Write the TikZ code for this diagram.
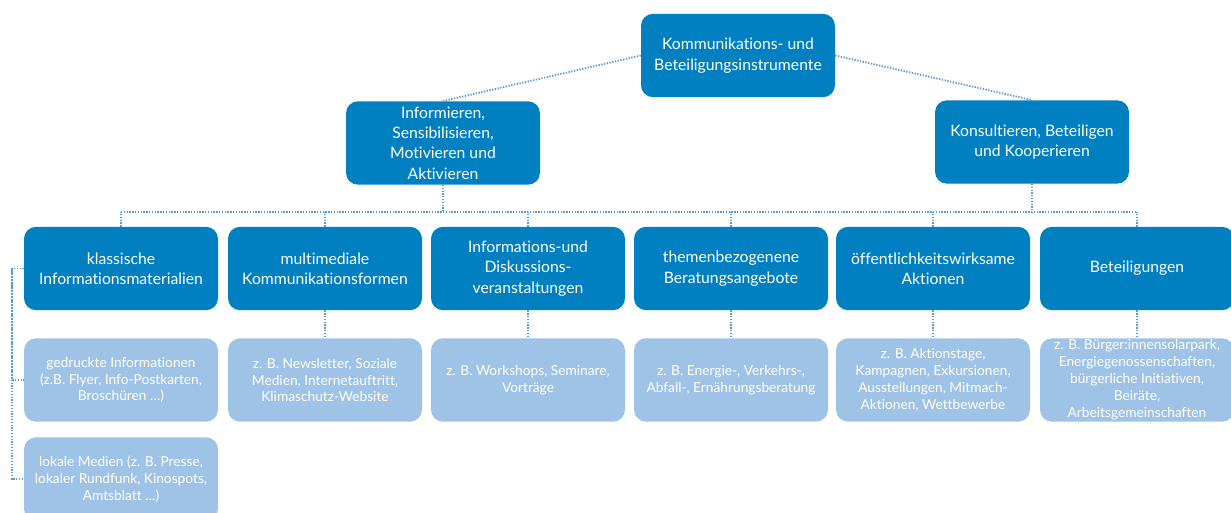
\documentclass[tikz,border=0pt]{standalone}
\usepackage{fontspec}
\setmainfont{Lato}[Ligatures=NoCommon]
\definecolor{dunkelblau}{RGB}{0,127,193}
\definecolor{hellblau}{RGB}{158,195,230}
\definecolor{linienblau}{RGB}{91,155,213}
\tikzset{
    hauptbox/.style={fill=dunkelblau, text=white, rounded corners=9pt, align=center,
        minimum width=145.5pt, minimum height=62.5pt, inner sep=2pt,
        font=\fontsize{11.8}{15.3}\selectfont},
    beispielbox/.style={fill=hellblau, text=white, rounded corners=9pt, align=center,
        minimum width=145.5pt, minimum height=62.5pt, inner sep=1pt,
        font=\fontsize{10.3}{12.7}\selectfont},
    verbinder/.style={linienblau, line width=1.4pt, dash pattern=on 1pt off 1.1pt}
}
\begin{document}
\begin{tikzpicture}[x=0.75pt, y=-0.75pt]
        \useasboundingbox (0,0) rectangle (1231,513);
        % Oberste Ebene
        \node[hauptbox] (top) at (738,55.5) {Kommunikations- und\\Beteiligungsinstrumente};
        \node[hauptbox] (inform) at (443,143) {Informieren,\\Sensibilisieren,\\Motivieren und\\Aktivieren};
        \node[hauptbox] (konsult) at (1032,142) {Konsultieren, Beteiligen\\und Kooperieren};

        % Instrumente
        \node[hauptbox] (k1) at (121,268.5) {klassische\\Informationsmaterialien};
        \node[hauptbox] (k2) at (325,268.5) {multimediale\\Kommunikationsformen};
        \node[hauptbox] (k3) at (528,268.5) {Informations-und\\Diskussions-\\veranstaltungen};
        \node[hauptbox] (k4) at (731,268.5) {themenbezogenene\\Beratungsangebote};
        \node[hauptbox] (k5) at (933,268.5) {öffentlichkeitswirksame\\Aktionen};
        \node[hauptbox] (k6) at (1137,268.5) {Beteiligungen};

        % Beispiele
        \node[beispielbox] (b1a) at (121,380) {gedruckte Informationen\\(z.B. Flyer, Info-Postkarten,\\Broschüren …)};
        \node[beispielbox] (b1b) at (121,479) {lokale Medien (z. B. Presse,\\lokaler Rundfunk, Kinospots,\\Amtsblatt …)};
        \node[beispielbox] (b2) at (325,380) {z. B. Newsletter, Soziale\\Medien, Internetauftritt,\\Klimaschutz-Website};
        \node[beispielbox] (b3) at (528,380) {z. B. Workshops, Seminare,\\Vorträge};
        \node[beispielbox] (b4) at (731,380) {z. B. Energie-, Verkehrs-,\\Abfall-, Ernährungsberatung};
        \node[beispielbox] (b5) at (933,380) {z. B. Aktionstage,\\Kampagnen, Exkursionen,\\Ausstellungen, Mitmach-\\Aktionen, Wettbewerbe};
        \node[beispielbox] (b6) at (1137,380) {z. B. Bürger:innensolarpark,\\Energiegenossenschaften,\\bürgerliche Initiativen,\\Beiräte,\\Arbeitsgemeinschaften};

        % Verbindungen oben
        \draw[verbinder] (top.west) -- (inform.north);
        \draw[verbinder] (top.east) -- (konsult.north);

        % Sammelschiene
        \coordinate (busL) at (121,212);
        \coordinate (busR) at (1137,212);
        \draw[verbinder] (busL) -- (busR);
        \draw[verbinder] (inform.south) -- (inform.south |- busL);
        \draw[verbinder] (konsult.south) -- (konsult.south |- busL);
        \foreach \k in {k1,k2,k3,k4,k5,k6}
            \draw[verbinder] (\k.north) -- (\k.north |- busL);

        % Instrumente zu Beispielen
        \foreach \k/\b in {k2/b2,k3/b3,k4/b4,k5/b5,k6/b6}
            \draw[verbinder] (\k.south) -- (\b.north);
        \draw[verbinder] (k1.west) -- ++(-12,0) |- (b1b.west);
        \draw[verbinder] (k1.west) ++(-12,0) |- (b1a.west);
    \end{tikzpicture}
\end{document}
